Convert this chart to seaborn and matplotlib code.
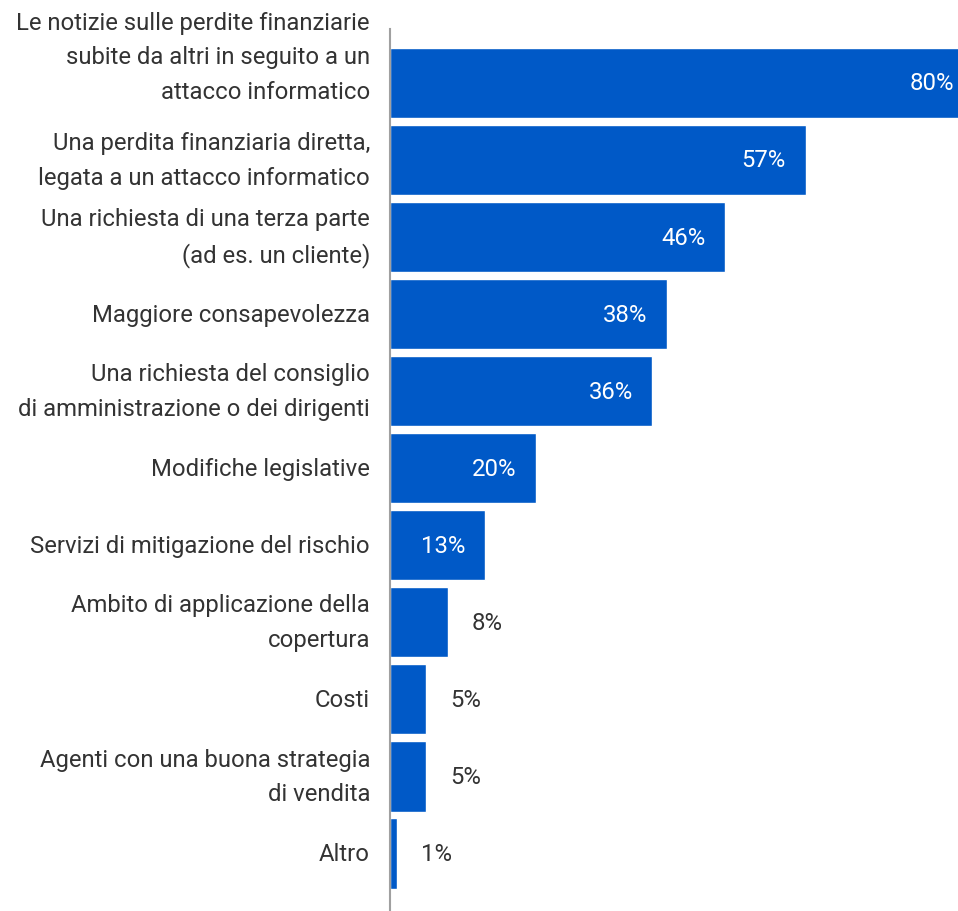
import matplotlib
matplotlib.use("Agg")
import matplotlib.pyplot as plt
import matplotlib.transforms as mtransforms
import seaborn as sns
import pandas as pd

categories = [
    "Le notizie sulle perdite finanziarie\nsubite da altri in seguito a un\nattacco informatico",
    "Una perdita finanziaria diretta,\nlegata a un attacco informatico",
    "Una richiesta di una terza parte\n(ad es. un cliente)",
    "Maggiore consapevolezza",
    "Una richiesta del consiglio\ndi amministrazione o dei dirigenti",
    "Modifiche legislative",
    "Servizi di mitigazione del rischio",
    "Ambito di applicazione della\ncopertura",
    "Costi",
    "Agenti con una buona strategia\ndi vendita",
    "Altro",
]
values = [80, 57, 46, 38, 36, 20, 13, 8, 5, 5, 1]
value_labels = ["80%", "57%", "46%", "38%", "36%", "20%", "13%", "8%", "5%", "5%", "1%"]

sns.set_style("white")
plt.rcParams["font.family"] = ["Roboto", "DejaVu Sans"]

df = pd.DataFrame({"cat": categories, "val": values})

fig = plt.figure(figsize=(9.58, 9.12), dpi=100)
ax = fig.add_axes([390 / 958, 0, 1 - 390 / 958, 1 - 30 / 912])

sns.barplot(data=df, y="cat", x="val", color="#0059C7", saturation=1,
            width=0.91, orient="h", ax=ax)

ax.set_xlim(0, 77.9)
ax.set_ylim(10.746, -0.70)
ax.set_xlabel("")
ax.set_ylabel("")
ax.set_xticks([])
ax.set_yticks(range(len(categories)))
ax.set_yticklabels(categories, linespacing=1.66, fontsize=17.2,
                   color="#333333", multialignment="right", va="center")
ax.tick_params(axis="y", length=0, pad=14.4)

# first (three-line) label sits higher than its bar, as in the original
lab0 = ax.yaxis.get_major_ticks()[0].label1
lab0.set_transform(lab0.get_transform() +
                   mtransforms.ScaledTranslation(0, 0.26, fig.dpi_scale_trans))

for s in ["top", "right", "bottom"]:
    ax.spines[s].set_visible(False)
ax.spines["left"].set_color("#a0a0a0")
ax.spines["left"].set_linewidth(1.5)

for i, (v, lab) in enumerate(zip(values, value_labels)):
    if v >= 13:
        ax.text(v - 2.7, i, lab, ha="right", va="center", color="white",
                fontsize=17.2)
    else:
        ax.text(v + 3.2, i, lab, ha="left", va="center", color="#333333",
                fontsize=17.2)

fig.savefig("out.png", dpi=100)
